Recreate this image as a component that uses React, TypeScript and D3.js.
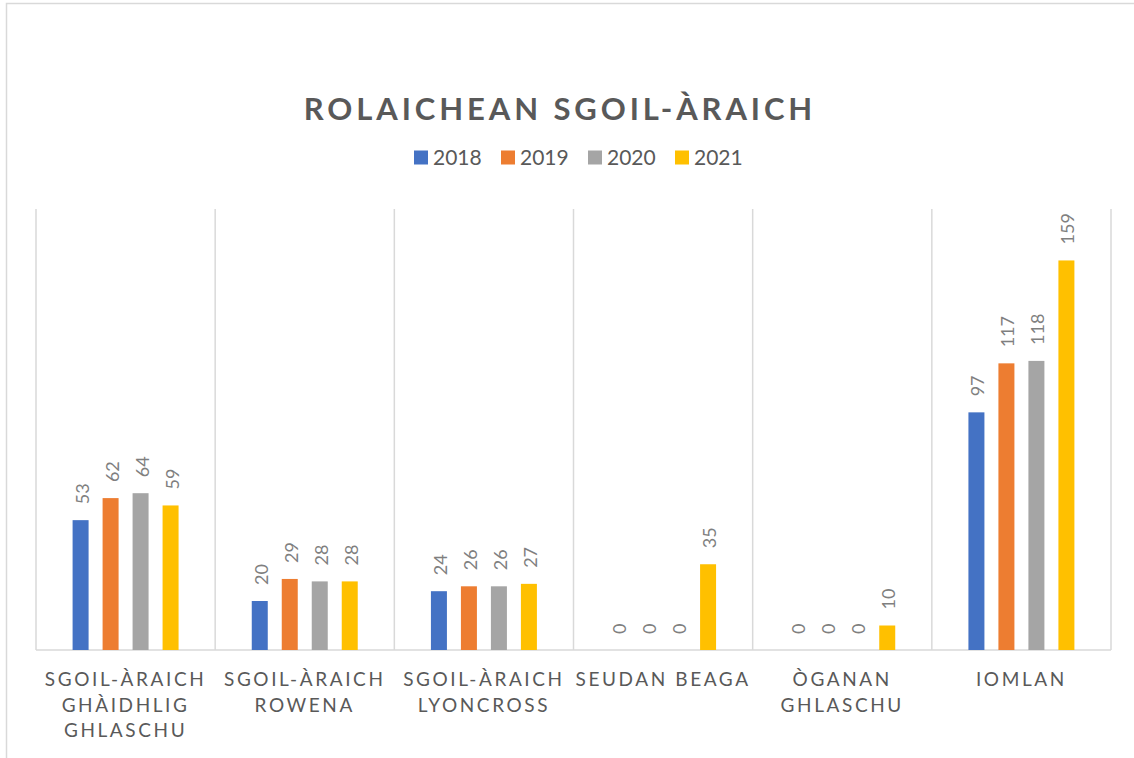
import React from "react";
import * as d3 from "d3";

const categories = [
  "SGOIL-ÀRAICH\nGHÀIDHLIG\nGHLASCHU",
  "SGOIL-ÀRAICH\nROWENA",
  "SGOIL-ÀRAICH\nLYONCROSS",
  "SEUDAN BEAGA",
  "ÒGANAN\nGHLASCHU",
  "IOMLAN",
];
const seriesNames = ["2018", "2019", "2020", "2021"];
const values2018 = [53, 20, 24, 0, 0, 97];
const values2019 = [62, 29, 26, 0, 0, 117];
const values2020 = [64, 28, 26, 0, 0, 118];
const values2021 = [59, 28, 27, 35, 10, 159];
const seriesValues = [values2018, values2019, values2020, values2021];
const colors = ["#4472C4", "#ED7D31", "#A5A5A5", "#FFC000"];
const title = "ROLAICHEAN SGOIL-ÀRAICH";

const W = 1134;
const H = 758;
const plot = { left: 36, right: 1111, top: 209, bottom: 650 };
const FONT = "Lato, 'Open Sans', sans-serif";

export default function App() {
  const x = d3.scaleBand<string>().domain(categories).range([plot.left, plot.right]).padding(0);
  const inner = d3
    .scaleBand<string>()
    .domain(seriesNames)
    .range([0, x.bandwidth()])
    .paddingInner(0.4667)
    .paddingOuter(1.22);
  const y = d3.scaleLinear().domain([0, 180]).range([plot.bottom, plot.top]);

  const boundaries = categories.map((c) => x(c) as number).concat([plot.right]);

  return (
    <svg
      width={W}
      height={H}
      style={{ position: "absolute", left: 0, top: 0, background: "#fff" }}
      fontFamily={FONT}
    >
      <rect x={0} y={0} width={W} height={H} fill="#fff" />
      <rect x={6.5} y={3.5} width={W + 50} height={H + 50} fill="none" stroke="#d9d9d9" strokeWidth={1.5} />

      <text
        x={560}
        y={120}
        textAnchor="middle"
        fontSize={31}
        fontWeight={700}
        letterSpacing={3.9}
        fill="#595959"
      >
        {title}
      </text>

      {seriesNames.map((s, i) => (
        <g key={s} transform={`translate(${414 + i * 87},150.5)`}>
          <rect width={14} height={14} fill={colors[i]} />
          <text x={19} y={14} fontSize={21} fill="#595959">
            {s}
          </text>
        </g>
      ))}

      {boundaries.map((bx, i) => (
        <line key={i} x1={bx} x2={bx} y1={plot.top} y2={plot.bottom} stroke="#d9d9d9" strokeWidth={1.5} />
      ))}
      <line x1={plot.left} x2={plot.right} y1={plot.bottom} y2={plot.bottom} stroke="#d9d9d9" strokeWidth={1.5} />

      {categories.map((c, ci) => (
        <g key={c}>
          {seriesNames.map((s, si) => {
            const v = seriesValues[si][ci];
            const bx = (x(c) as number) + (inner(s) as number);
            const bw = inner.bandwidth();
            const top = y(v);
            const cx = bx + bw / 2;
            const ly = top - 16;
            return (
              <g key={s}>
                {v > 0 && <rect x={bx} y={top} width={bw} height={plot.bottom - top} fill={colors[si]} />}
                <text
                  transform={`translate(${cx + 1},${ly}) rotate(-90)`}
                  fontSize={18}
                  fill="#7f7f7f"
                  dominantBaseline="central"
                  textAnchor="start"
                >
                  {v}
                </text>
              </g>
            );
          })}
          {c.split("\n").map((line, li) => (
            <text
              key={li}
              x={(x(c) as number) + x.bandwidth() / 2}
              y={686 + li * 25.5}
              textAnchor="middle"
              fontSize={19}
              letterSpacing={2.6}
              fill="#595959"
            >
              {line}
            </text>
          ))}
        </g>
      ))}
    </svg>
  );
}
